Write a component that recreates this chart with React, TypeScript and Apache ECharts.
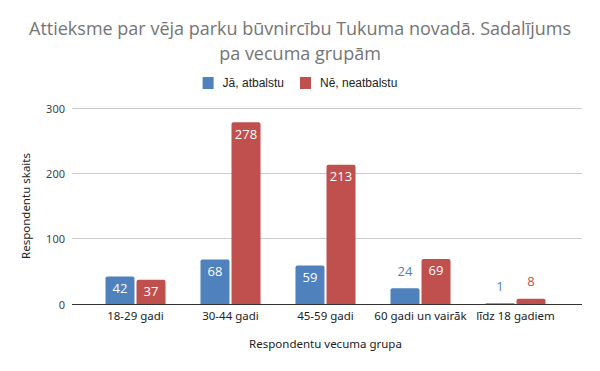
import React, { useEffect, useRef } from "react";
import * as echarts from "echarts";

const titleText = "Attieksme par vēja parku būvnircību Tukuma novadā. Sadalījums\npa vecuma grupām";
const categories = ["18-29 gadi", "30-44 gadi", "45-59 gadi", "60 gadi un vairāk", "līdz 18 gadiem"];
const seriesNames = ["Jā, atbalstu", "Nē, neatbalstu"];
const yesValues = [42, 68, 59, 24, 1];
const noValues = [37, 278, 213, 69, 8];
const colors = ["#4F81BD", "#C0504D"];
const yTicks = [0, 100, 200, 300];

export default function App() {
  const ref = useRef<HTMLDivElement>(null);
  useEffect(() => {
    if (!ref.current) return;
    const chart = echarts.init(ref.current, undefined, { renderer: "svg" });
    const mkData = (vals: number[], color: string) =>
      vals.map((v) => ({
        value: v,
        label:
          v >= 30
            ? { position: "insideTop", distance: 5, color: "#ffffff" }
            : { position: "top", distance: 11, color },
      }));
    const mkSeries = (name: string, vals: number[], color: string) => ({
      name,
      type: "bar",
      xAxisIndex: 1,
      yAxisIndex: 1,
      barWidth: 29,
      barGap: "7%",
      itemStyle: { color, borderRadius: [2, 2, 0, 0] },
      label: { show: true, fontFamily: "Open Sans", fontSize: 13 },
      data: mkData(vals, color),
    });
    chart.setOption({
      animation: false,
      title: {
        text: titleText,
        left: "center",
        top: 10,
        textStyle: {
          fontFamily: "Open Sans",
          fontSize: 18,
          fontWeight: "normal",
          color: "#757575",
          lineHeight: 25,
        },
      },
      legend: {
        top: 72,
        left: "center",
        itemWidth: 11,
        itemHeight: 12,
        itemGap: 16,
        icon: "rect",
        textStyle: {
          fontFamily: "Liberation Sans",
          fontSize: 12,
          color: "#222",
          padding: [0, 0, 0, 4],
        },
        data: seriesNames,
      },
      grid: [
        { left: 72, right: 18, top: 108, bottom: 67 },
        { left: 88, right: 37, top: 108, bottom: 67 },
      ],
      xAxis: [
        { type: "category", gridIndex: 0, show: false, data: categories },
        {
          type: "category",
          gridIndex: 1,
          data: categories,
          axisLine: { show: false },
          axisTick: { show: false },
          axisLabel: {
            interval: 0,
            fontFamily: "Noto Sans",
            fontSize: 11.5,
            color: "#222",
            margin: 5,
          },
          name: "Respondentu vecuma grupa",
          nameLocation: "middle",
          nameGap: 33,
          nameTextStyle: { fontFamily: "Noto Sans", fontSize: 11.5, color: "#222" },
        },
      ],
      yAxis: [
        {
          type: "value",
          gridIndex: 0,
          min: yTicks[0],
          max: yTicks[yTicks.length - 1],
          interval: 100,
          axisLine: { show: false },
          axisTick: { show: false },
          axisLabel: { fontFamily: "Noto Sans", fontSize: 11, color: "#444", margin: 7 },
          splitLine: { lineStyle: { color: ["#333333", "#cccccc", "#cccccc", "#cccccc"], width: 1 } },
          name: "Respondentu skaits",
          nameLocation: "middle",
          nameGap: 41,
          nameTextStyle: { fontFamily: "Noto Sans", fontSize: 11.5, color: "#222" },
        },
        {
          type: "value",
          gridIndex: 1,
          min: yTicks[0],
          max: yTicks[yTicks.length - 1],
          interval: 100,
          show: false,
          splitLine: { show: false },
        },
      ],
      series: [
        mkSeries(seriesNames[0], yesValues, colors[0]),
        mkSeries(seriesNames[1], noValues, colors[1]),
      ],
    });
    return () => chart.dispose();
  }, []);
  return <div ref={ref} style={{ width: 600, height: 371, position: "absolute", left: 0, top: 0 }} />;
}
